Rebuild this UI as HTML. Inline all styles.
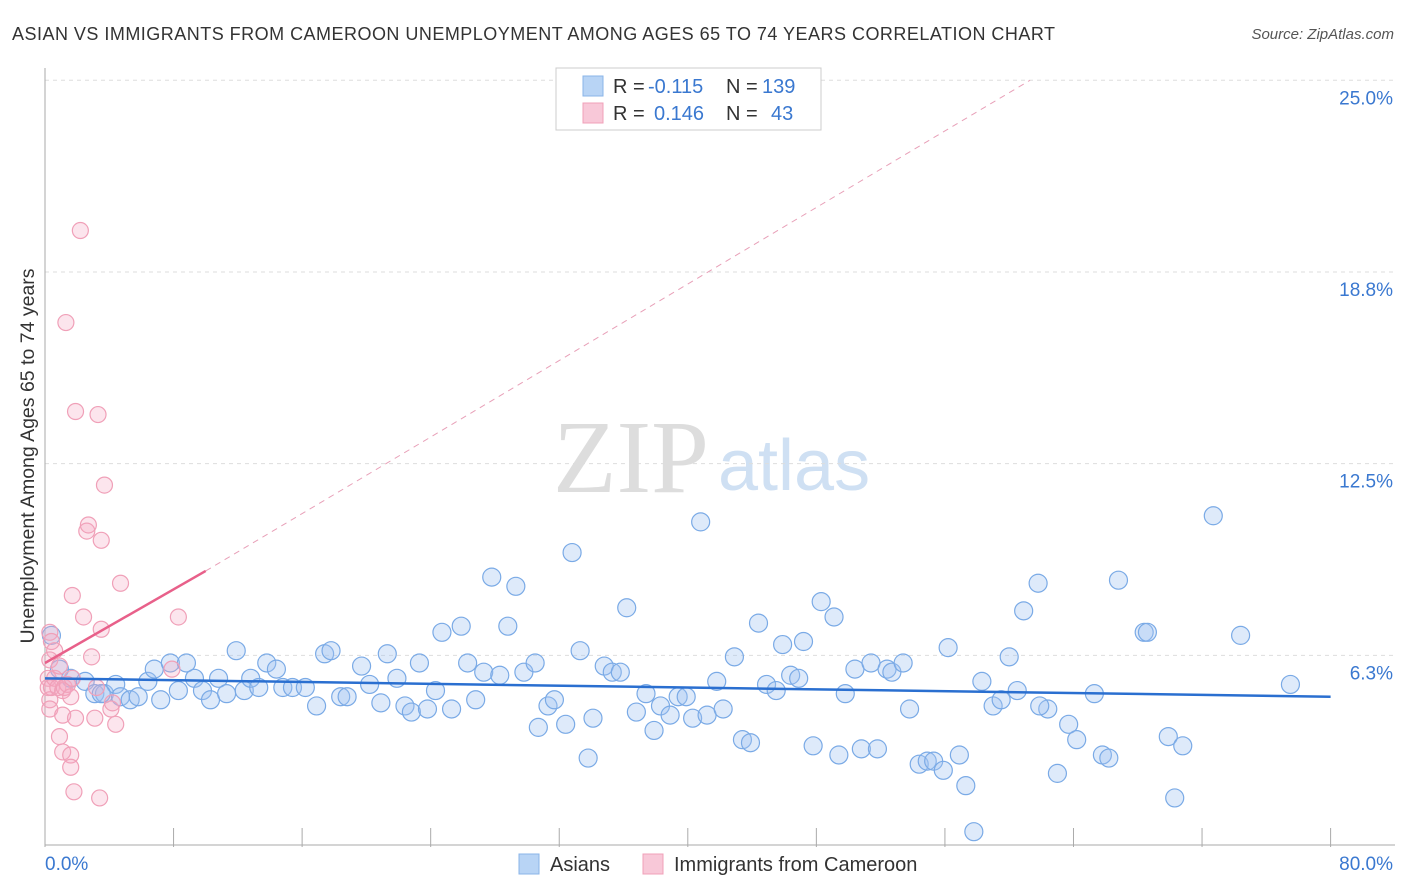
<!DOCTYPE html>
<html><head><meta charset="utf-8"><style>
body{margin:0;background:#fff;font-family:"Liberation Sans",sans-serif;}
#wrap{position:relative;width:1406px;height:892px;overflow:hidden;}
svg{position:absolute;left:0;top:0;}
</style></head><body>
<div id="wrap">
<svg id="c" width="1406" height="892">
<text x="12" y="40" font-size="18" textLength="1043" fill="#333">ASIAN VS IMMIGRANTS FROM CAMEROON UNEMPLOYMENT AMONG AGES 65 TO 74 YEARS CORRELATION CHART</text>
<text x="1394" y="39" font-size="15" fill="#555" font-style="italic" text-anchor="end">Source: ZipAtlas.com</text>
<text x="553" y="492" font-size="104" fill="#ddd" font-family="Liberation Serif,serif">ZIP</text>
<text x="718" y="490" font-size="72" fill="#cfe0f3">atlas</text>
<text transform="translate(34,456) rotate(-90)" font-size="19.5" fill="#333" text-anchor="middle">Unemployment Among Ages 65 to 74 years</text>
<g id="grid"></g><g id="pts"></g><g id="lines"></g>
<g>
<rect x="556" y="68" width="265" height="62" fill="#fff" stroke="#ccc"/>
<rect x="583" y="76" width="20" height="20" fill="#b8d4f5" stroke="#8ab4e8"/>
<rect x="583" y="103" width="20" height="20" fill="#f8c8d8" stroke="#f0a0b8"/>
<text x="613" y="93" font-size="20" fill="#333">R =</text>
<text x="648" y="93" font-size="20" fill="#3a78d0">-0.115</text>
<text x="726" y="93" font-size="20" fill="#333">N =</text>
<text x="762" y="93" font-size="20" fill="#3a78d0">139</text>
<text x="613" y="120" font-size="20" fill="#333">R =</text>
<text x="654" y="120" font-size="20" fill="#3a78d0">0.146</text>
<text x="726" y="120" font-size="20" fill="#333">N =</text>
<text x="771" y="120" font-size="20" fill="#3a78d0">43</text>
</g>
<g>
<rect x="519" y="854" width="20" height="20" fill="#b8d4f5" stroke="#8ab4e8"/>
<text x="550" y="871" font-size="20" fill="#333">Asians</text>
<rect x="643" y="854" width="20" height="20" fill="#f8c8d8" stroke="#f0a0b8"/>
<text x="674" y="871" font-size="20" fill="#333">Immigrants from Cameroon</text>
</g>
</svg></div>
<script>
const xTicks=[0,8,16,24,32,40,48,56,64,72,80];
const yTickVals=[6.25,12.5,18.75,25];
const yTickLabels=["6.3%","12.5%","18.8%","25.0%"];
const asianX=[0.4,0.9,1.6,2.5,3.1,3.7,4.4,4.7,5.3,5.8,6.4,6.8,7.2,7.8,8.3,8.8,9.3,9.8,10.3,10.8,11.3,11.9,12.4,12.8,13.3,13.8,14.4,14.8,15.4,16.2,16.9,17.4,17.8,18.4,18.8,19.7,20.2,20.9,21.3,21.9,22.4,22.8,23.3,23.8,24.3,24.7,25.3,25.9,26.3,26.8,27.3,27.8,28.3,28.8,29.3,29.8,30.5,30.7,31.3,31.7,32.4,32.8,33.3,33.8,34.1,34.8,35.3,35.8,36.2,36.8,37.4,37.9,38.3,38.9,39.4,39.9,40.3,40.8,41.2,41.8,42.2,42.9,43.4,43.9,44.4,44.9,45.5,45.9,46.4,46.9,47.2,47.8,48.3,49.1,49.4,49.8,50.4,50.8,51.4,51.8,52.4,52.7,53.4,53.8,54.4,54.9,55.3,55.9,56.2,56.9,57.3,57.8,58.3,59.0,59.5,60.0,60.5,60.9,61.8,62.4,63.0,63.7,64.2,65.3,65.8,66.2,66.8,68.4,68.6,69.9,70.3,70.8,72.7,74.4,77.5,61.9,3.5];
const asianY=[6.9,5.8,5.5,5.4,5.0,5.0,5.3,4.9,4.8,4.9,5.4,5.8,4.8,6.0,5.1,6.0,5.5,5.1,4.8,5.5,5.0,6.4,5.1,5.5,5.2,6.0,5.8,5.2,5.2,5.2,4.6,6.3,6.4,4.9,4.9,5.9,5.3,4.7,6.3,5.5,4.6,4.4,6.0,4.5,5.1,7.0,4.5,7.2,6.0,4.8,5.7,8.8,5.6,7.2,8.5,5.7,6.0,3.9,4.6,4.8,4.0,9.6,6.4,2.9,4.2,5.9,5.7,5.7,7.8,4.4,5.0,3.8,4.6,4.3,4.9,4.9,4.2,10.6,4.3,5.4,4.5,6.2,3.5,3.4,7.3,5.3,5.1,6.6,5.6,5.5,6.7,3.3,8.0,7.5,3.0,5.0,5.8,3.2,6.0,3.2,5.8,5.7,6.0,4.5,2.7,2.8,2.8,2.5,6.5,3.0,2.0,0.5,5.4,4.6,4.8,6.2,5.1,7.7,8.6,4.5,2.4,4.0,3.5,5.0,3.0,2.9,8.7,7.0,7.0,3.6,1.6,3.3,10.8,6.9,5.3,4.6,5.0];
const camX=[0.3,0.4,0.6,0.3,0.2,0.2,0.3,0.3,0.4,0.6,0.8,0.9,1.1,1.2,1.1,1.3,1.4,1.6,1.7,1.7,1.9,1.9,0.9,1.1,1.6,1.6,1.8,2.2,2.4,2.6,2.7,2.9,3.1,3.3,3.4,3.5,3.5,3.7,4.1,4.2,4.4,4.7,3.2,7.9,8.3];
const camY=[7.0,6.7,6.4,6.1,5.5,5.2,4.8,4.5,5.2,5.5,5.2,5.9,5.1,5.2,4.3,17.1,5.3,4.9,5.5,8.2,14.2,4.2,3.6,3.1,3.0,2.6,1.8,20.1,7.5,10.3,10.5,6.2,4.2,14.1,1.6,7.1,10.0,11.8,4.5,4.7,4.0,8.6,5.2,5.8,7.5];
const X=v=>45+v*16.07, Y=v=>847-v*30.67;
const ns="http://www.w3.org/2000/svg";
function mk(t,a,p){const e=document.createElementNS(ns,t);for(const k in a)e.setAttribute(k,a[k]);p.appendChild(e);return e;}
const grid=document.getElementById('grid'),pts=document.getElementById('pts'),lines=document.getElementById('lines');
yTickVals.forEach((v,i)=>{
 const l=mk('line',{x1:45,x2:1395,y1:Y(v),y2:Y(v),stroke:'#ddd','stroke-dasharray':'4,4'},grid);
 
 
 const t=mk('text',{x:1393,y:Y(v)+24,'font-size':19,fill:'#3a78d0','text-anchor':'end'},grid);t.textContent=yTickLabels[i];
 
 
});
mk('line',{x1:45,x2:45,y1:68,y2:847,stroke:'#aaa'},grid);
mk('line',{x1:45,x2:1395,y1:845,y2:845,stroke:'#aaa'},grid);
xTicks.forEach(v=>{const l=mk('line',{x1:X(v),x2:X(v),y1:828,y2:847,stroke:'#aaa'},grid);
 
 });
let t=mk('text',{x:45,y:870,'font-size':19,fill:'#3a78d0'},grid);t.textContent='0.0%';


t=mk('text',{x:1393,y:870,'font-size':19,fill:'#3a78d0','text-anchor':'end'},grid);t.textContent='80.0%';


asianX.forEach((v,i)=>{const c=mk('circle',{cx:X(v),cy:Y(asianY[i]),r:9,fill:'rgba(160,196,240,0.35)',stroke:'#7aaae6','stroke-width':1.2},pts);
 
 });
camX.forEach((v,i)=>{const c=mk('circle',{cx:X(v),cy:Y(camY[i]),r:8,fill:'rgba(245,170,195,0.3)',stroke:'#f0a0b8','stroke-width':1.2},pts);
 
 });
let l=mk('line',{x1:X(0),y1:Y(5.5),x2:X(80),y2:Y(4.9),stroke:'#2a6fd0','stroke-width':2.5},lines);


l=mk('line',{x1:X(10),y1:Y(9.0),x2:X(61.3),y2:Y(25),stroke:'#e8a0b8','stroke-width':1,'stroke-dasharray':'6,5'},lines);


l=mk('line',{x1:X(0),y1:Y(6.0),x2:X(10),y2:Y(9.0),stroke:'#e8608a','stroke-width':2.5},lines);


</script>
</body></html>
